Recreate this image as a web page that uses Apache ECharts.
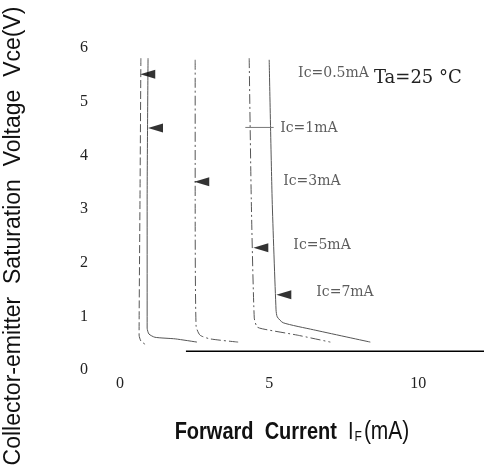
<!DOCTYPE html>
<html>
<head>
<meta charset="utf-8">
<script src="https://cdn.jsdelivr.net/npm/echarts@6/dist/echarts.min.js"></script>
<style>
  html, body { margin: 0; padding: 0; background: #fff; }
  #chart { width: 484px; height: 474px; }
</style>
</head>
<body>
<div id="chart"></div>
<script>
// curves Vce vs IF, one per collector current
const curveNames = ['Ic=0.5mA', 'Ic=1mA', 'Ic=3mA', 'Ic=5mA', 'Ic=7mA']
const curveX = [
  [0.70, 0.67, 0.64, 0.70, 0.84],
  [0.94, 0.91, 0.91, 0.97, 1.17, 1.85, 2.58],
  [2.52, 2.52, 2.55, 2.68, 3.02, 3.96],
  [4.33, 4.40, 4.50, 4.60, 4.93, 5.94, 7.05],
  [5.00, 5.10, 5.23, 5.27, 5.47, 6.48, 8.39]
]
const curveY = [
  [5.81, 3.17, 0.65, 0.54, 0.48],
  [5.81, 3.17, 0.78, 0.67, 0.61, 0.58, 0.52],
  [5.78, 3.17, 0.82, 0.65, 0.58, 0.52],
  [5.81, 3.17, 0.97, 0.80, 0.75, 0.65, 0.52],
  [5.78, 3.17, 1.12, 0.99, 0.88, 0.75, 0.52]
]
// arrow heads pointing at each curve
const arrowX = [0.93, 1.19, 2.74, 4.72, 5.49]
const arrowY = [5.51, 4.51, 3.51, 2.28, 1.40]
// where the Ic labels start
const labelX = [5.97, 5.37, 5.47, 5.81, 6.58]
const labelY = [5.53, 4.51, 3.52, 2.33, 1.45]
const xTicks = [0, 5, 10]
const yTicks = [0, 1, 2, 3, 4, 5, 6]
// baseline drawn under the curves
const baseX = [2.21, 12.2]
const baseY = [0.35, 0.35]
// small crossing mark at Ic=1mA
const crossX = [4.2, 5.15]
const crossY = [4.52, 4.52]

const zip = (xs, ys) => xs.map((x, i) => [x, ys[i]])
const lineTypes = [[8, 3], 'solid', [10, 3, 2, 3], [10, 3, 2, 3], 'solid']

const chart = echarts.init(document.getElementById('chart'))

const series = curveNames.map((name, i) => ({
  name     : name,
  type     : 'line',
  data     : zip(curveX[i], curveY[i]),
  symbol   : 'none',
  smooth   : 0.2,
  lineStyle: { color: '#555', width: 1, type: lineTypes[i] },
  z        : 2
}))

series.push({
  type     : 'line',
  data     : zip(baseX, baseY),
  symbol   : 'none',
  lineStyle: { color: '#000', width: 1.5 }
})
series.push({
  type     : 'line',
  data     : zip(crossX, crossY),
  symbol   : 'none',
  lineStyle: { color: '#777', width: 1 }
})
series.push({
  type        : 'scatter',
  data        : zip(arrowX, arrowY),
  symbol      : 'triangle',
  symbolSize  : [9, 15],
  symbolRotate: 90,
  itemStyle   : { color: '#000' },
  z           : 3
})
series.push({
  type      : 'scatter',
  data      : curveNames.map((n, i) => ({ value: [labelX[i], labelY[i]], name: n })),
  symbolSize: 0,
  label     : {
    show      : true,
    position  : 'right',
    distance  : 0,
    formatter : p => p.name,
    fontFamily: 'DejaVu Serif',
    fontSize  : 14,
    color     : '#333'
  }
})

chart.setOption({
  animation: false,
  grid: { left: 120, right: 0, top: 48, bottom: 104 },
  xAxis: {
    type    : 'value',
    min     : 0,
    max     : 12.2,
    interval: 5,
    axisLine : { show: false },
    axisTick : { show: false },
    splitLine: { show: false },
    axisLabel: {
      margin      : 6,
      showMaxLabel: false,
      formatter   : v => (xTicks.indexOf(v) >= 0 ? String(v) : ''),
      fontFamily  : 'Liberation Serif',
      fontSize    : 16,
      color       : '#222'
    }
  },
  yAxis: {
    type    : 'value',
    min     : 0,
    max     : 6,
    interval: 1,
    axisLine : { show: false },
    axisTick : { show: false },
    splitLine: { show: false },
    axisLabel: {
      margin    : 32,
      formatter : v => (yTicks.indexOf(v) >= 0 ? String(v) : ''),
      fontFamily: 'Liberation Serif',
      fontSize  : 16,
      color     : '#222'
    }
  },
  graphic: [
    {
      type    : 'text',
      x       : 14,
      y       : 236,
      rotation: Math.PI / 2,
      style   : {
        text         : 'Collector-emitter  Saturation  Voltage  Vce(V)',
        fontFamily   : 'Liberation Sans',
        fontSize     : 23,
        fill         : '#111',
        align        : 'center',
        verticalAlign: 'middle'
      }
    },
    {
      type  : 'text',
      x     : 292,
      y     : 432,
      scaleY: 1.2,
      style : {
        text         : '{a|Forward  Current  }{i|I}{s|F}{b|(mA)}',
        align        : 'center',
        verticalAlign: 'middle',
        fill         : '#111',
        rich: {
          a: { fontFamily: 'Liberation Sans', fontSize: 20, fontWeight: 'bold', fill: '#111' },
          i: { fontFamily: 'Liberation Sans', fontSize: 20, fill: '#111', padding: [0, 1, 0, 0] },
          s: { fontFamily: 'Liberation Sans', fontSize: 12, fill: '#111', verticalAlign: 'bottom', padding: [4, 2, 0, 0] },
          b: { fontFamily: 'Liberation Sans', fontSize: 21, fill: '#111' }
        }
      }
    },
    {
      type : 'text',
      x    : 374,
      y    : 78,
      style: {
        text         : 'Ta=25 °C',
        fontFamily   : 'DejaVu Serif',
        fontSize     : 18,
        fill         : '#222',
        verticalAlign: 'middle'
      }
    }
  ],
  series: series
})
</script>
</body>
</html>
